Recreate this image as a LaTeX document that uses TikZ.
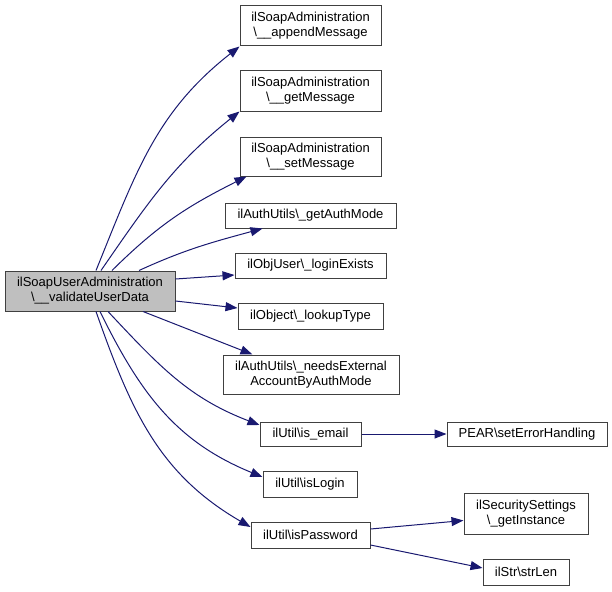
\documentclass[tikz,border=0pt]{standalone}
\usepackage{fontspec}
\setmainfont{Liberation Sans}
\usetikzlibrary{arrows.meta}
\definecolor{edgeblue}{RGB}{25,25,112}
\definecolor{boxline}{RGB}{64,64,64}
\definecolor{mainfill}{RGB}{191,191,191}
\begin{document}
\begin{tikzpicture}[x=1pt,y=-1pt,
  fn/.style={draw=boxline,line width=1pt,fill=white,inner sep=0pt,align=center,
    font=\fontsize{13}{15}\selectfont},
  mainbox/.style={fn,fill=mainfill},
  edge/.style={draw=edgeblue,line width=1pt,-{Triangle[length=12pt,width=9pt]}}]
\useasboundingbox (0,0) rectangle (612,591);
\node[mainbox,minimum width=170pt,minimum height=40pt] (main) at (90,291) {ilSoapUserAdministration\\\textbackslash\_\_validateUserData};
\node[fn,minimum width=141pt,minimum height=40pt] (append) at (310.5,26) {ilSoapAdministration\\\textbackslash\_\_appendMessage};
\node[fn,minimum width=141pt,minimum height=40pt] (getmsg) at (310.5,91) {ilSoapAdministration\\\textbackslash\_\_getMessage};
\node[fn,minimum width=141pt,minimum height=39pt] (setmsg) at (310.5,156.5) {ilSoapAdministration\\\textbackslash\_\_setMessage};
\node[fn,minimum width=171pt,minimum height=25pt] (getauth) at (310.5,215.5) {ilAuthUtils\textbackslash\_getAuthMode};
\node[fn,minimum width=151pt,minimum height=25pt] (login) at (310.5,265.5) {ilObjUser\textbackslash\_loginExists};
\node[fn,minimum width=145pt,minimum height=26pt] (lookup) at (310.5,316) {ilObject\textbackslash\_lookupType};
\node[fn,minimum width=176pt,minimum height=39pt] (needs) at (311,374.5) {ilAuthUtils\textbackslash\_needsExternal\\AccountByAuthMode};
\node[fn,minimum width=101pt,minimum height=24pt] (isemail) at (310.5,434) {ilUtil\textbackslash is\_email};
\node[fn,minimum width=160pt,minimum height=24pt] (pear) at (527,434) {PEAR\textbackslash setErrorHandling};
\node[fn,minimum width=94pt,minimum height=26pt] (islogin) at (310,484) {ilUtil\textbackslash isLogin};
\node[fn,minimum width=119pt,minimum height=26pt] (ispw) at (310.5,535) {ilUtil\textbackslash isPassword};
\node[fn,minimum width=124pt,minimum height=41pt] (secset) at (526,513.5) {ilSecuritySettings\\\textbackslash\_getInstance};
\node[fn,minimum width=86pt,minimum height=26pt] (strlen) at (526,572) {ilStr\textbackslash strLen};
% edges
\draw[edge] ([xshift=6pt]main.north) .. controls (136,172) and (156,112) .. (append.south west);
\draw[edge] ([xshift=11pt]main.north) .. controls (149,201) and (174,164) .. (getmsg.south west);
\draw[edge] ([xshift=22pt]main.north) .. controls (159,224) and (188,206) .. ([xshift=7pt]setmsg.south west);
\draw[edge] ([xshift=49pt]main.north) .. controls (186,249) and (213,242) .. ([xshift=38pt]getauth.south west);
\draw[edge] ([yshift=12pt]main.east) -- ([yshift=-9.5pt]login.west);
\draw[edge] ([yshift=-10pt]main.east) -- ([yshift=8pt]lookup.west);
\draw[edge] ([xshift=53pt]main.south) -- ([xshift=30pt]needs.north west);
\draw[edge] ([xshift=18pt]main.south) .. controls (160,367) and (189,398) .. ([yshift=9pt]isemail.west);
\draw[edge] ([xshift=10pt]main.south) .. controls (141,395) and (177,442) .. ([yshift=7pt]islogin.west);
\draw[edge] ([xshift=6pt]main.south) .. controls (131,411) and (159,474) .. ([yshift=8pt]ispw.west);
\draw[edge] (isemail) -- (pear);
\draw[edge] ([yshift=6pt]ispw.east) -- ([yshift=-7pt]secset.west);
\draw[edge] ([yshift=-10pt]ispw.east) -- ([yshift=4pt]strlen.west);
\end{tikzpicture}
\end{document}
